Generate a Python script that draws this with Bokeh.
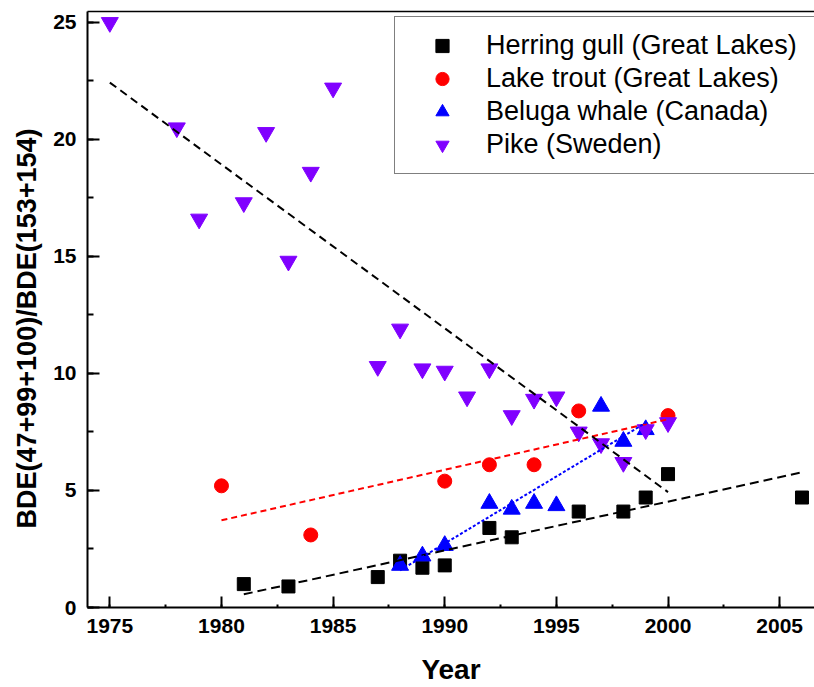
import numpy as np
from bokeh.plotting import figure
from bokeh.models import (Range1d, SingleIntervalTicker, FixedTicker, LinearAxis,
                          Legend, LegendItem, Title)
from bokeh.embed import file_html
from bokeh.resources import INLINE

# BDE(47+99+100)/BDE(153+154) ratio by sampling year
gull_years = [1981, 1983, 1987, 1988, 1989, 1990, 1992, 1993, 1996, 1998, 1999, 2000, 2006]
gull_ratio = [1.0, 0.9, 1.3, 2.0, 1.7, 1.8, 3.4, 3.0, 4.1, 4.1, 4.7, 5.7, 4.7]

trout_years = [1980, 1984, 1990, 1992, 1994, 1996, 2000]
trout_ratio = [5.2, 3.1, 5.4, 6.1, 6.1, 8.4, 8.2]

beluga_years = [1988, 1989, 1990, 1992, 1993, 1994, 1995, 1997, 1998, 1999]
beluga_ratio = [1.8, 2.2, 2.65, 4.45, 4.2, 4.45, 4.35, 8.6, 7.1, 7.6]

pike_years = [1975, 1978, 1979, 1981, 1982, 1983, 1984, 1985, 1987, 1988, 1989,
              1990, 1991, 1992, 1993, 1994, 1995, 1996, 1997, 1998, 1999, 2000]
pike_ratio = [25.0, 20.5, 16.6, 17.3, 20.3, 14.8, 18.6, 22.2, 10.3, 11.9, 10.2,
              10.1, 9.0, 10.2, 8.2, 8.9, 9.0, 7.5, 7.0, 6.2, 7.6, 7.9]

series_labels = ["Herring gull (Great Lakes)", "Lake trout (Great Lakes)",
                 "Beluga whale (Canada)", "Pike (Sweden)"]
x_title = "Year"
y_title = "BDE(47+99+100)/BDE(153+154)"

FONT = "Liberation Sans"
PURPLE = "#8000FF"


def fit_line(years, ratios):
    """Least-squares trend over the span of a series."""
    slope, intercept = np.polyfit(np.asarray(years, float), np.asarray(ratios, float), 1)
    xs = np.array([min(years), max(years)], dtype=float)
    return xs, slope * xs + intercept


p = figure(width=814, height=687,
           x_range=Range1d(1974, 2006.56), y_range=Range1d(0, 25.47),
           output_backend="svg", toolbar_location=None,
           min_border_left=87, min_border_right=0, min_border_top=11,
           min_border_bottom=80, x_axis_label=x_title)
p.outline_line_color = None
p.xgrid.visible = False
p.ygrid.visible = False
p.background_fill_color = "white"
p.border_fill_color = "white"


def style_axis(ax, major_in, minor_in):
    ax.ticker = SingleIntervalTicker(interval=5, num_minor_ticks=2)
    ax.major_tick_in = major_in
    ax.major_tick_out = 0
    ax.minor_tick_in = minor_in
    ax.minor_tick_out = 0
    ax.axis_line_width = 2
    ax.axis_line_color = "black"
    ax.major_tick_line_width = 2
    ax.major_tick_line_color = "black"
    ax.minor_tick_line_width = 2
    ax.minor_tick_line_color = "black"
    ax.major_label_standoff = 11
    ax.major_label_text_font = FONT
    ax.major_label_text_font_style = "bold"
    ax.major_label_text_font_size = "21px"
    ax.major_label_text_color = "black"
    ax.axis_label_text_font = FONT
    ax.axis_label_text_font_style = "bold"
    ax.axis_label_text_font_size = "28px"
    ax.axis_label_text_color = "black"


style_axis(p.xaxis[0], 11, 3)
p.xaxis[0].axis_label_standoff = 18
style_axis(p.yaxis[0], 12, 6)

# plain frame line along the top
top = LinearAxis(ticker=FixedTicker(ticks=[]), axis_line_width=1.5,
                 major_tick_in=0, major_tick_out=0, minor_tick_in=0, minor_tick_out=0,
                 major_label_text_font_size="0px")
p.add_layout(top, "above")

# markers
r_gull = p.scatter(gull_years, gull_ratio, marker="square", size=13,
                   fill_color="black", line_color="black")
r_trout = p.scatter(trout_years, trout_ratio, marker="circle", size=14,
                    fill_color="red", line_color="red")
r_beluga = p.scatter(beluga_years, beluga_ratio, marker="triangle", size=17,
                     fill_color="blue", line_color="blue")
r_pike = p.scatter(pike_years, pike_ratio, marker="inverted_triangle", size=17,
                   fill_color=PURPLE, line_color=PURPLE)

# trend lines
gx, gy = fit_line(gull_years, gull_ratio)
p.line(gx, gy, line_color="black", line_width=2, line_dash="9 5")
tx, ty = fit_line(trout_years, trout_ratio)
p.line(tx, ty, line_color="red", line_width=2, line_dash="6 4")
bx, by = fit_line(beluga_years, beluga_ratio)
p.line(bx, by, line_color="blue", line_width=2, line_dash="3 2")
px_, py_ = fit_line(pike_years, pike_ratio)
p.line(px_, py_, line_color="black", line_width=2, line_dash="8 5")

# vertical title, lifted to sit over the lower part of the axis
p.add_layout(Title(text=y_title, align="left", offset=79, standoff=17,
                   text_font=FONT, text_font_style="bold", text_font_size="27px",
                   text_color="black"), "left")

legend = Legend(items=[LegendItem(label=series_labels[0], renderers=[r_gull]),
                       LegendItem(label=series_labels[1], renderers=[r_trout]),
                       LegendItem(label=series_labels[2], renderers=[r_beluga]),
                       LegendItem(label=series_labels[3], renderers=[r_pike])],
                location=(307, 433), padding=12, spacing=0, margin=0,
                glyph_width=70, glyph_height=33, label_standoff=9,
                label_width=340, label_height=33,
                label_text_font=FONT, label_text_font_size="27px",
                label_text_color="black",
                border_line_color="black", border_line_width=1.2,
                background_fill_color="white", background_fill_alpha=1)
p.add_layout(legend)

open("out.html", "w").write(file_html(p, INLINE))
